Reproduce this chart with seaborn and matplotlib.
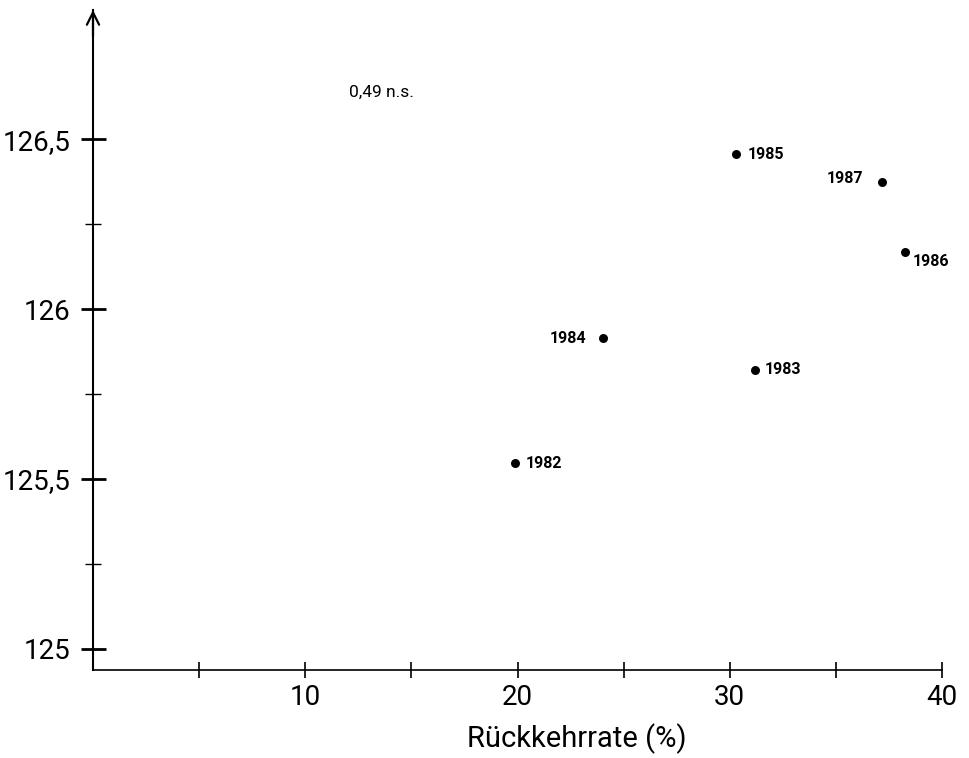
import matplotlib
matplotlib.use("Agg")
import matplotlib.pyplot as plt
import seaborn as sns
import pandas as pd

years = ["1982", "1983", "1984", "1985", "1986", "1987"]
rueckkehrrate = [19.88, 31.19, 24.01, 30.29, 38.26, 37.16]
werte = [125.547, 125.821, 125.914, 126.456, 126.169, 126.374]
x_ticks = [5, 10, 15, 20, 25, 30, 35, 40]
x_ticklabels = ["", "10", "", "20", "", "30", "", "40"]
y_major = [125.0, 125.5, 126.0, 126.5]
y_major_labels = ["125", "125,5", "126", "126,5"]
y_minor = [125.25, 125.75, 126.25]
xlabel = "Rückkehrrate (%)"
note = "0,49 n.s."

sns.set_theme(style="white")
plt.rcParams["font.family"] = ["Roboto", "DejaVu Sans"]
plt.rcParams["text.color"] = "black"
plt.rcParams["xtick.color"] = "black"
plt.rcParams["ytick.color"] = "black"
plt.rcParams["axes.labelcolor"] = "black"

df = pd.DataFrame({"x": rueckkehrrate, "y": werte, "year": years})

fig = plt.figure(figsize=(9.7, 7.58), dpi=100)
ax = fig.add_axes([93 / 970, 88 / 758, 849 / 970, 660 / 758])

sns.scatterplot(data=df, x="x", y="y", ax=ax, color="black", s=42,
                edgecolor="black", linewidth=0, zorder=3)

ax.set_xlim(0, 40)
ax.set_ylim(124.938, 126.88)

ax.spines["top"].set_visible(False)
ax.spines["right"].set_visible(False)
ax.spines["left"].set_linewidth(1.5)
ax.spines["bottom"].set_linewidth(1.2)
ax.spines["left"].set_color("black")
ax.spines["bottom"].set_color("black")

ax.set_xticks(x_ticks)
ax.set_xticklabels(x_ticklabels)
ax.set_yticks(y_major)
ax.set_yticklabels(y_major_labels)
ax.set_yticks(y_minor, minor=True)

ax.tick_params(axis="x", which="major", direction="inout", length=12, width=1.2,
               color="black", labelcolor="black", labelsize=20, pad=4, bottom=True)
ax.tick_params(axis="y", which="major", direction="inout", length=18, width=2.0,
               color="black", labelcolor="black", labelsize=20, pad=7, left=True)
ax.tick_params(axis="y", which="minor", direction="inout", length=12, width=1.0,
               color="black", left=True)

ax.set_xlabel("")
ax.set_ylabel("")
fig.text(577 / 970, (758 - 739) / 758, xlabel, ha="center", va="center",
         fontsize=21, color="black")

# arrow head at top of y axis
ax.annotate("", xy=(0, 1.0), xycoords="axes fraction", xytext=(0, 0.96),
            textcoords="axes fraction",
            arrowprops=dict(arrowstyle="->", lw=1.6, color="black",
                            mutation_scale=22, shrinkA=0, shrinkB=0))

offsets = {
    "1982": (11, 0, "left"),
    "1983": (10, 0, "left"),
    "1984": (-16, 0, "right"),
    "1985": (12, 0, "left"),
    "1986": (8, -10, "left"),
    "1987": (-19, 3, "right"),
}
for xv, yv, yr in zip(rueckkehrrate, werte, years):
    dx, dy, ha = offsets[yr]
    ax.annotate(yr, xy=(xv, yv), xytext=(dx, dy), textcoords="offset pixels",
                ha=ha, va="center", fontsize=11.5, color="black",
                fontweight="bold")

ax.text(12.06, 126.638, note, ha="left", va="center", fontsize=12.5,
        color="black")

fig.savefig("out.png", dpi=100, facecolor="white")
